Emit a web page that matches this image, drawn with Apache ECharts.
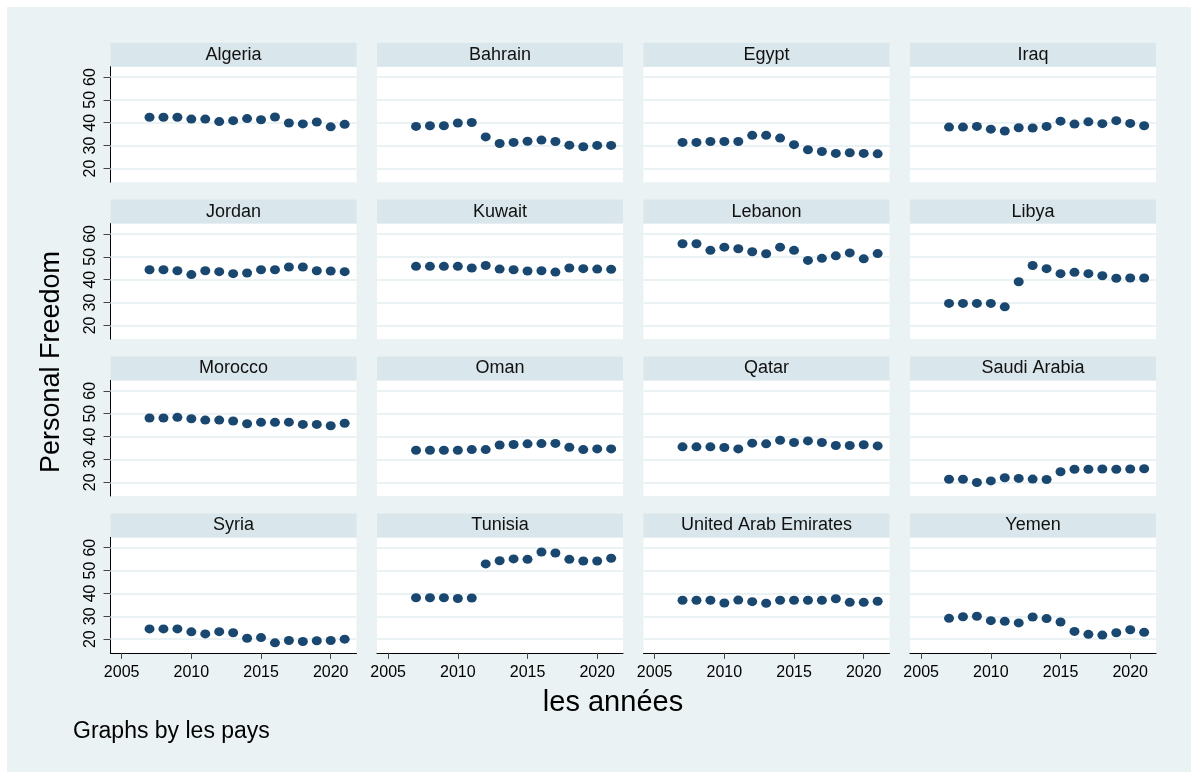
<!DOCTYPE html>
<html>
<head>
<meta charset="utf-8">
<title>Personal Freedom</title>
<script src="https://cdn.jsdelivr.net/npm/echarts@6/dist/echarts.min.js"></script>
<style>
  html, body { margin: 0; padding: 0; background: #fff; }
  #bg { position: absolute; left: 7px; top: 7px; right: 0; bottom: 0; background: #eaf2f3; }
  #chart { position: absolute; left: 0; top: 0; width: 1191px; height: 772px; }
</style>
</head>
<body>
<div id="bg"></div>
<div id="chart"></div>
<script>
// data (personal freedom, 2007-2021)
var years = [2007, 2008, 2009, 2010, 2011, 2012, 2013, 2014, 2015, 2016, 2017, 2018, 2019, 2020, 2021]
var countries = ['Algeria', 'Bahrain', 'Egypt', 'Iraq', 'Jordan', 'Kuwait', 'Lebanon', 'Libya',
  'Morocco', 'Oman', 'Qatar', 'Saudi Arabia', 'Syria', 'Tunisia', 'United Arab Emirates', 'Yemen']

var algeria = [42.4, 42.4, 42.4, 41.6, 41.6, 40.5, 40.9, 41.8, 41.3, 42.5, 39.9, 39.5, 40.3, 38.2, 39.3]
var bahrain = [38.4, 38.7, 38.7, 39.9, 40.1, 33.8, 30.9, 31.4, 31.9, 32.4, 31.8, 30.2, 29.5, 30.1, 30.1]
var egypt = [31.4, 31.4, 31.8, 31.8, 31.8, 34.5, 34.5, 33.3, 30.4, 28.2, 27.4, 26.6, 26.9, 26.6, 26.4]
var iraq = [38.1, 38.1, 38.4, 37.2, 36.4, 37.8, 37.7, 38.4, 40.7, 39.4, 40.4, 39.6, 40.9, 39.7, 38.7]
var jordan = [44.3, 44.3, 43.9, 42.2, 43.9, 43.5, 42.6, 42.9, 44.3, 44.3, 45.5, 45.5, 43.9, 43.8, 43.5]
var kuwait = [45.8, 45.8, 45.8, 45.8, 45.1, 46.2, 44.6, 44.3, 43.8, 43.9, 43.3, 45.1, 44.8, 44.6, 44.5]
var lebanon = [55.7, 55.7, 52.8, 54.2, 53.5, 52.2, 51.3, 54.2, 52.8, 48.4, 49.3, 50.4, 51.7, 49.1, 51.4]
var libya = [29.6, 29.6, 29.6, 29.6, 28.1, 39.1, 46.2, 44.8, 42.6, 43.2, 42.6, 41.7, 40.6, 40.7, 40.7]
var morocco = [48.1, 48.1, 48.4, 47.8, 47.2, 47.2, 46.8, 45.6, 46.2, 46.2, 46.3, 45.3, 45.3, 44.7, 45.8]
var oman = [34.0, 34.0, 34.0, 34.0, 34.3, 34.3, 36.3, 36.5, 36.8, 36.9, 37.0, 35.3, 34.3, 34.6, 34.6]
var qatar = [35.5, 35.5, 35.5, 35.2, 34.6, 37.1, 36.8, 38.4, 37.4, 38.1, 37.4, 36.1, 36.1, 36.4, 35.9]
var saudiArabia = [21.3, 21.3, 19.9, 20.6, 22.0, 21.7, 21.4, 21.2, 24.6, 25.7, 25.7, 25.8, 25.7, 25.8, 25.9]
var syria = [24.5, 24.5, 24.5, 23.2, 22.3, 23.3, 22.8, 20.4, 20.7, 18.4, 19.4, 19.0, 19.3, 19.4, 20.0]
var tunisia = [38.1, 38.1, 38.1, 37.8, 38.0, 52.9, 54.3, 55.1, 54.9, 58.1, 57.7, 54.9, 54.2, 54.2, 55.4]
var uae = [37.0, 37.0, 37.0, 35.8, 37.1, 36.4, 35.7, 37.0, 37.0, 37.0, 37.0, 37.7, 36.1, 36.1, 36.6]
var yemen = [29.1, 29.8, 30.0, 28.1, 27.8, 27.1, 29.7, 29.0, 27.5, 23.4, 22.1, 21.8, 22.8, 24.1, 23.0]

var xTicks = [2005, 2010, 2015, 2020]
var yTicks = [20, 30, 40, 50, 60]

var seriesValues = [algeria, bahrain, egypt, iraq, jordan, kuwait, lebanon, libya,
  morocco, oman, qatar, saudiArabia, syria, tunisia, uae, yemen]

// panel layout (px)
var colLeft = [110.5, 377, 643.5, 910]
var rowTop = [66.7, 223.6, 380.5, 537.4]
var panelW = 246
var panelH = 115.5
var headH = 24

var font = "'Liberation Sans', Arial, sans-serif"
var navy = '#1a476f'

var grids = []
var xAxes = []
var yAxes = []
var series = []
var graphics = []

countries.forEach(function(name, i) {
  var r = Math.floor(i / 4)
  var c = i % 4
  var bottomRow = r === 3
  var firstCol = c === 0

  grids.push({
    left: colLeft[c],
    top: rowTop[r],
    width: panelW,
    height: panelH,
    show: true,
    backgroundColor: '#fff',
    borderWidth: 0
  })

  xAxes.push({
    type: 'value',
    gridIndex: i,
    min: 2004.2,
    max: 2021.85,
    axisLine: { show: bottomRow, onZero: false, lineStyle: { color: '#000', width: 1 } },
    axisTick: { show: bottomRow, customValues: xTicks, length: 6, lineStyle: { color: '#444' } },
    axisLabel: {
      show: bottomRow,
      customValues: xTicks,
      formatter: function(v) { return String(v) },
      color: '#000',
      fontSize: 16,
      fontFamily: font,
      margin: 12
    },
    splitLine: { show: false }
  })

  yAxes.push({
    type: 'value',
    gridIndex: i,
    min: 14,
    max: 64.5,
    axisLine: { show: firstCol, onZero: false, lineStyle: { color: '#000', width: 1 } },
    axisTick: { show: firstCol, customValues: yTicks, length: 7, lineStyle: { color: '#444' } },
    axisLabel: { show: firstCol, customValues: yTicks, rotate: 90, color: '#000', fontSize: 16, fontFamily: font, margin: 12 },
    splitLine: { show: false }
  })

  series.push({
    name: name,
    type: 'scatter',
    xAxisIndex: i,
    yAxisIndex: i,
    symbol: 'circle',
    symbolSize: [10, 9],
    itemStyle: { color: navy, opacity: 1 },
    data: years.map(function(y, k) { return [y, seriesValues[i][k]] }),
    z: 3,
    markLine: {
      silent: true,
      z: 1,
      symbol: ['none', 'none'],
      label: { show: false },
      lineStyle: { color: '#eaf2f3', width: 2, type: 'solid' },
      data: yTicks.map(function(v) { return { yAxis: v } })
    }
  })

  // header band with country name
  graphics.push({
    type: 'rect',
    shape: { x: colLeft[c], y: rowTop[r] - headH, width: panelW, height: headH },
    style: { fill: '#d9e6eb' }
  })
  graphics.push({
    type: 'text',
    x: colLeft[c] + panelW / 2,
    y: rowTop[r] - headH / 2,
    style: { text: name, fill: '#111', font: '18px ' + font, textAlign: 'center', textVerticalAlign: 'middle' }
  })
})

graphics.push({
  type: 'text',
  x: 52,
  y: 362,
  rotation: Math.PI / 2,
  style: { text: 'Personal Freedom', fill: '#000', font: '27px ' + font, textAlign: 'center', textVerticalAlign: 'middle' }
})
graphics.push({
  type: 'text',
  x: 613,
  y: 703,
  style: { text: 'les années', fill: '#000', font: '29px ' + font, textAlign: 'center', textVerticalAlign: 'middle' }
})
graphics.push({
  type: 'text',
  x: 73,
  y: 732,
  style: { text: 'Graphs by les pays', fill: '#000', font: '23px ' + font, textAlign: 'left', textVerticalAlign: 'middle' }
})

var chart = echarts.init(document.getElementById('chart'))
chart.setOption({
  animation: false,
  grid: grids,
  xAxis: xAxes,
  yAxis: yAxes,
  series: series,
  graphic: graphics
})
window.addEventListener('resize', function() { chart.resize() })
</script>
</body>
</html>
